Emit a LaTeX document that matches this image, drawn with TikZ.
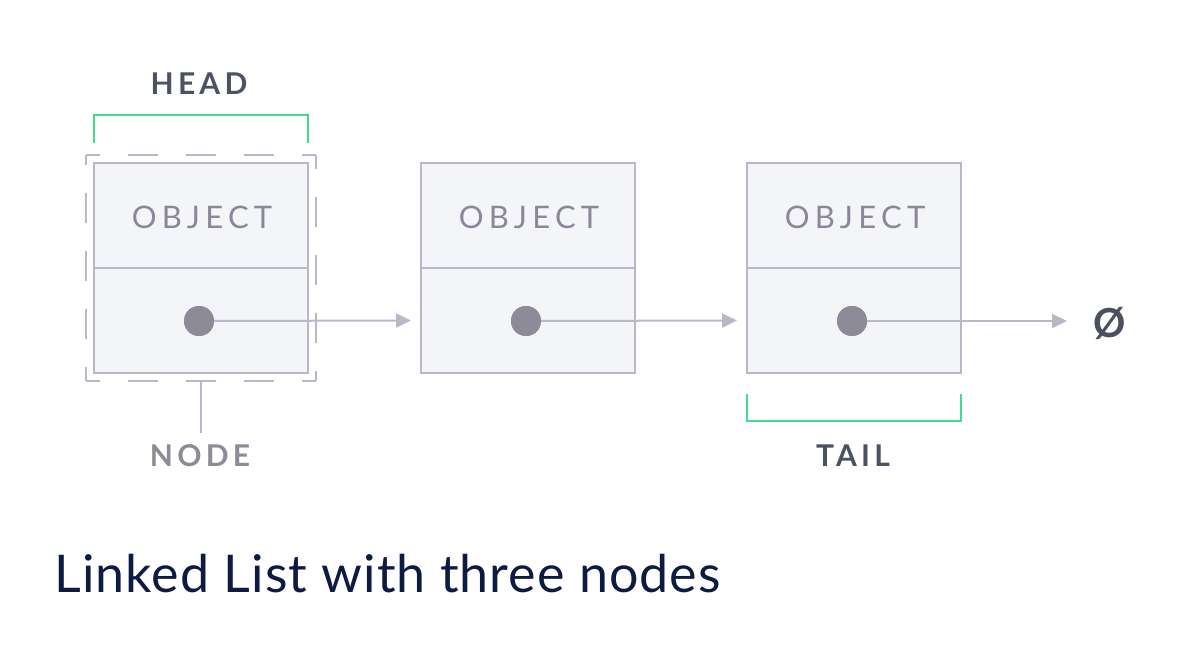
\documentclass[tikz,border=0pt]{standalone}
\usepackage{fontspec}
\setmainfont{Lato}
\newfontfamily\lblfont[LetterSpace=14]{Lato}
\newfontfamily\objfont[LetterSpace=17]{Lato}
\newfontfamily\capfont[LetterSpace=2]{Lato}
\usetikzlibrary{arrows.meta}
\definecolor{boxline}{HTML}{BAB7C9}
\definecolor{boxfill}{HTML}{F4F5F9}
\definecolor{dotc}{HTML}{8E8B99}
\definecolor{objc}{HTML}{8A8797}
\definecolor{labc}{HTML}{4B5262}
\definecolor{greenc}{HTML}{3DDC91}
\definecolor{capc}{HTML}{0D1B42}
\definecolor{nullc}{HTML}{4A5060}
\begin{document}
\begin{tikzpicture}[x=1pt,y=-1pt,
  half/.style={draw=boxline, fill=boxfill, line width=2pt, minimum width=214pt, minimum height=105pt, inner sep=0pt, outer sep=0pt},
  objtext/.style={font=\objfont\fontsize{31}{31}\selectfont, text=objc},
  lbl/.style={font=\lblfont\bfseries\fontsize{30}{30}\selectfont, text=labc},
  nodelbl/.style={font=\lblfont\bfseries\fontsize{30}{30}\selectfont, text=dotc},
  dotn/.style={circle, fill=dotc, minimum size=30pt, inner sep=0pt, outer sep=0pt},
  link/.style={draw=boxline, line width=2pt, -{Triangle[length=15pt,width=14pt]}},
  bracket/.style={draw=greenc, line width=2pt},
  dashside/.style={draw=boxline, line width=2pt, dash pattern=on 30pt off 28pt, dash phase=16pt}
]
\useasboundingbox (0,0) rectangle (1182,658);
% list nodes
\foreach \i/\x in {1/201,2/528,3/854}{
  \node[half] (obj\i) at (\x,215.5) {};
  \node[half] (ptr\i) at (\x,320.5) {};
  \node[objtext] (ot\i) at (\x+1,217) {OBJECT};
  \node[dotn] (dot\i) at (\x-2,321) {};
}
% null
\node[font=\fontsize{40}{40}\selectfont\bfseries, text=nullc] (null) at (1110,323) {Ø};
% links
\draw[link, shorten >=10pt] (dot1.center) -- (ptr2.west);
\draw[link, shorten >=10pt] (dot2.center) -- (ptr3.west);
\draw[link] (dot3.center) -- (1067,321) coordinate (nullend);
\fill[dotc] (dot1) circle (15pt);
\fill[dotc] (dot2) circle (15pt);
\fill[dotc] (dot3) circle (15pt);
% dashed outline of node 1
\coordinate (d1) at (86,155);
\coordinate (d2) at (316,155);
\coordinate (d3) at (316,381);
\coordinate (d4) at (86,381);
\draw[dashside] (d1) -- (d2);
\draw[dashside] (d2) -- (d3);
\draw[dashside] (d3) -- (d4);
\draw[dashside] (d4) -- (d1);
% HEAD
\node[lbl] (head) at (199,84) {HEAD};
\draw[bracket] (94,143) -- (94,115) -- (308,115) -- (308,143);
% TAIL
\node[lbl] (tail) at (853,456) {TAIL};
\draw[bracket] (747,394) -- (747,421) -- (961,421) -- (961,394);
% NODE
\node[nodelbl] (nodelabel) at (200,456) {NODE};
\draw[draw=boxline, line width=2pt] (201,382) -- (201,433);
% caption
\node[font=\capfont\fontsize{52}{52}\selectfont, text=capc, anchor=base west] (caption) at (51,592) {Linked List with three nodes};
\end{tikzpicture}
\end{document}
